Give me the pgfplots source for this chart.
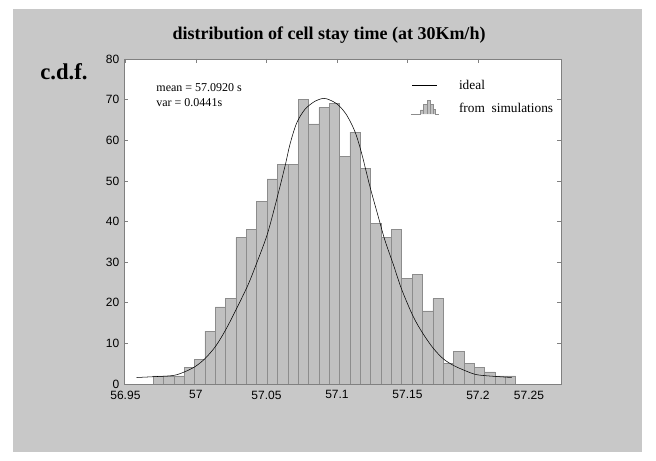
\documentclass[border=0pt]{standalone}
\usepackage{fontspec}
\setmainfont{Liberation Serif}
\newfontfamily\arialfont{Liberation Sans}
\usepackage{pgfplots}
\pgfplotsset{compat=1.18}
\definecolor{bggray}{RGB}{200,200,200}
\definecolor{barfill}{RGB}{192,192,192}
\definecolor{baredge}{RGB}{140,140,140}
\definecolor{axgray}{RGB}{128,128,128}
\begin{document}
\begin{tikzpicture}
\fill[white] (0pt,0pt) rectangle (492pt,345pt);
\fill[bggray] (9.75pt,6pt) rectangle (481.5pt,338.25pt);
\node[anchor=base, font=\bfseries\fontsize{13.5}{15}\selectfont] at (246.75pt,315pt) {distribution of cell stay time (at 30Km/h)};
\node[anchor=base, font=\bfseries\fontsize{17}{19}\selectfont] at (48pt,285pt) {c.d.f.};
\begin{axis}[
  at={(93pt,57pt)}, anchor=south west,
  scale only axis, width=327.75pt, height=243.75pt,
  xmin=56.949, xmax=57.2589, ymin=0, ymax=80,
  axis background/.style={fill=white},
  axis line style={axgray},
  every tick/.style={axgray},
  tick align=inside,
  major tick length=3pt,
  xtick pos=upper, xticklabel pos=lower,
  xtick={56.95,57,57.05,57.1,57.15,57.2},
  xticklabels={56.95,57,57.05,57.1,57.15,57.2},
  extra x ticks={57.2362}, extra x tick labels={57.25},
  extra x tick style={major tick length=0pt},
  ytick={0,10,...,80},
  /pgf/number format/assume math mode=true,
  ticklabel style={font=\arialfont\fontsize{9}{10}\selectfont},
  xticklabel style={yshift=-1.5pt},
  legend style={draw=none, fill=none, at={(rel axis cs:0.655,0.945)}, anchor=north west,
    font=\fontsize{10}{12}\selectfont, row sep=5pt, inner sep=0pt,
    /tikz/every odd column/.style={column sep=13pt}},
  legend cell align=left,
]
\addplot[ybar interval, fill=barfill, draw=baredge, forget plot] coordinates {
(56.9697,2) (56.9770,2) (56.9844,2) (56.9917,4) (56.9991,6)
(57.0064,13) (57.0138,19) (57.0211,21) (57.0284,36) (57.0358,38)
(57.0431,45) (57.0505,50.5) (57.0578,54) (57.0652,54) (57.0725,70)
(57.0798,64) (57.0872,68) (57.0945,69) (57.1019,56) (57.1092,62)
(57.1166,53) (57.1239,39.5) (57.1312,36) (57.1386,38) (57.1459,26)
(57.1533,27) (57.1606,18) (57.1680,21) (57.1753,5) (57.1826,8)
(57.1900,5) (57.1973,4) (57.2047,3) (57.2120,2) (57.2194,2)
(57.2267,2)
};
\addplot[black, smooth, forget plot] coordinates {
(56.958,1.6) (56.970,1.8) (56.984,2.1) (56.992,3.0) (56.9995,4.3)
(57.0066,6.3) (57.0142,9.4) (57.0215,13.6) (57.0289,18.6) (57.0367,24.2)
(57.0418,28.6) (57.0501,36.3) (57.0560,43.7) (57.0631,53.5) (57.0667,59.0)
(57.0714,64.2) (57.0773,67.6) (57.0844,69.6) (57.0905,70.3) (57.0950,69.9)
(57.1009,68.7) (57.1069,66.2) (57.1128,62.1) (57.1175,56.8) (57.1234,48.6)
(57.1293,41.2) (57.1340,35.4) (57.1399,29.5) (57.1459,23.3) (57.1541,16.6)
(57.1612,12.3) (57.1683,8.8) (57.1754,6.2) (57.1825,4.6) (57.1908,3.3)
(57.1990,2.3) (57.2108,1.9) (57.2239,1.6)
};
\addlegendimage{legend image code/.code={\draw[black] (0pt,0pt) -- (19pt,0pt);}}
\addlegendentry{ideal}
\addlegendimage{legend image code/.code={
  \draw[baredge, fill=barfill] (-1pt,-4pt) -- (6.2pt,-4pt) -- (6.2pt,-0.8pt) -- (8.7pt,-0.8pt) -- (8.7pt,3.5pt) -- (11.2pt,3.5pt) -- (11.2pt,6pt) -- (13.7pt,6pt) -- (13.7pt,3.5pt) -- (16.2pt,3.5pt) -- (16.2pt,-0.3pt) -- (17.5pt,-0.3pt) -- (17.5pt,-4pt) -- (20pt,-4pt);
  \draw[baredge] (8.7pt,-4pt) -- (8.7pt,-0.8pt) (11.2pt,-4pt) -- (11.2pt,3.5pt) (13.7pt,-4pt) -- (13.7pt,3.5pt) (16.2pt,-4pt) -- (16.2pt,-0.3pt);
}}
\addlegendentry{from\ \ simulations}
\node[anchor=base west, font=\fontsize{9}{10}\selectfont] at (rel axis cs:0.0634,0.9015) {mean = 57.0920 s};
\node[anchor=base west, font=\fontsize{9}{10}\selectfont] at (rel axis cs:0.0634,0.8535) {var = 0.0441s};
\end{axis}
\end{tikzpicture}
\end{document}
